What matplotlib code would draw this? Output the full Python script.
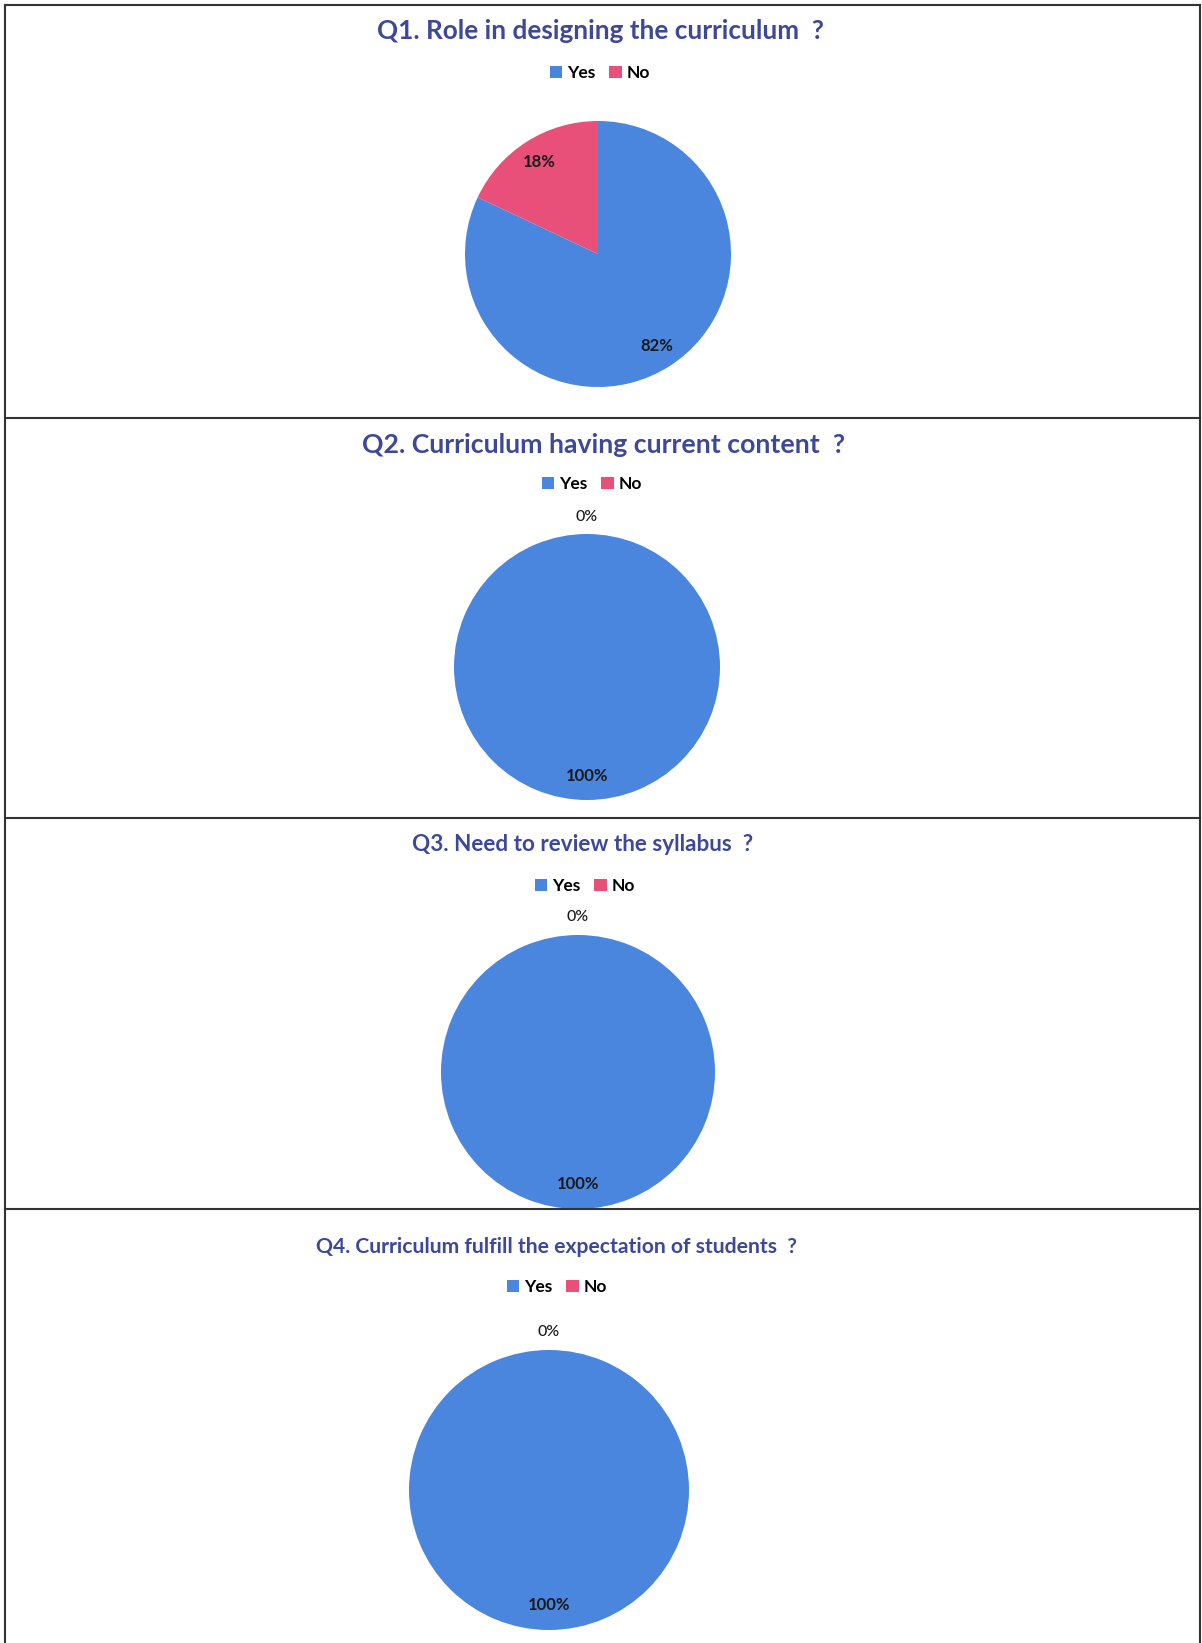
import matplotlib
matplotlib.use("Agg")
import matplotlib.pyplot as plt
from matplotlib.patches import Patch
import numpy as np

plt.rcParams['font.family'] = ['Lato', 'DejaVu Sans']

questions = [
    "Q1. Role in designing the curriculum  ?",
    "Q2. Curriculum having current content  ?",
    "Q3. Need to review the syllabus  ?",
    "Q4. Curriculum fulfill the expectation of students  ?",
]
categories = ["Yes", "No"]
yes_pct = [82, 100, 100, 100]
no_pct = [18, 0, 0, 0]

colors = ["#4a86de", "#e8507a"]
title_color = "#3d4898"

W, H = 1202, 1643
fig = plt.figure(figsize=(W / 100, H / 100), dpi=100)

# layout in pixels: pie centre, radius, title x/y, legend x/y, title size
layout = [
    dict(c=(598, 254), r=133, tx=600, ty=31, lx=600, ly=73, ts=18.8),
    dict(c=(587, 667), r=133, tx=604, ty=445, lx=592, ly=484, ts=19.2),
    dict(c=(578, 1072), r=137, tx=583, ty=844, lx=585, ly=886, ts=16.2),
    dict(c=(549, 1490), r=140, tx=557, ty=1247, lx=557, ly=1287, ts=15.2),
]


def px(x, y):
    return x / W, 1 - y / H


for i, q in enumerate(questions):
    lay = layout[i]
    cx, cy = lay["c"]
    r = lay["r"]
    side = 2.5 * r
    x0, y0 = px(cx - side / 2, cy + side / 2)
    ax = fig.add_axes([x0, y0, side / W, side / H])
    values = [yes_pct[i], no_pct[i]]
    wedges, _ = ax.pie(values, colors=colors, startangle=90, counterclock=False,
                       wedgeprops=dict(linewidth=0))
    ax.set_xlim(-1.25, 1.25)
    ax.set_ylim(-1.25, 1.25)
    for w, v in zip(wedges, values):
        mid = np.deg2rad((w.theta1 + w.theta2) / 2)
        d = 0.82 if v > 0 else 1.13
        ax.text(d * np.cos(mid), d * np.sin(mid), f"{v}%", ha="center", va="center",
                fontsize=12 if v > 0 else 11.5,
                fontweight="bold" if v > 0 else "medium", color="#1a1a1a")

    tx, ty = px(lay["tx"], lay["ty"])
    fig.text(tx, ty, q, ha="center", va="center",
             fontsize=lay["ts"], fontweight="bold", color=title_color)
    handles = [Patch(facecolor=colors[k], label=categories[k]) for k in range(2)]
    lx, ly = px(lay["lx"], lay["ly"])
    fig.legend(handles=handles, loc="center", bbox_to_anchor=(lx, ly), ncol=2,
               frameon=False, handlelength=0.7, handleheight=0.7,
               handletextpad=0.3, columnspacing=0.8, prop=dict(weight="bold", size=12.5))

# panel borders
for y in [5, 418, 818, 1209]:
    fig.add_artist(plt.Line2D([5 / W, 1200 / W], [1 - y / H, 1 - y / H], color="#333333", lw=1.5))
fig.add_artist(plt.Line2D([5 / W, 5 / W], [0, 1 - 5 / H], color="#333333", lw=1.5))
fig.add_artist(plt.Line2D([1200 / W, 1200 / W], [0, 1 - 5 / H], color="#333333", lw=1.5))

fig.savefig("out.png", dpi=100)
